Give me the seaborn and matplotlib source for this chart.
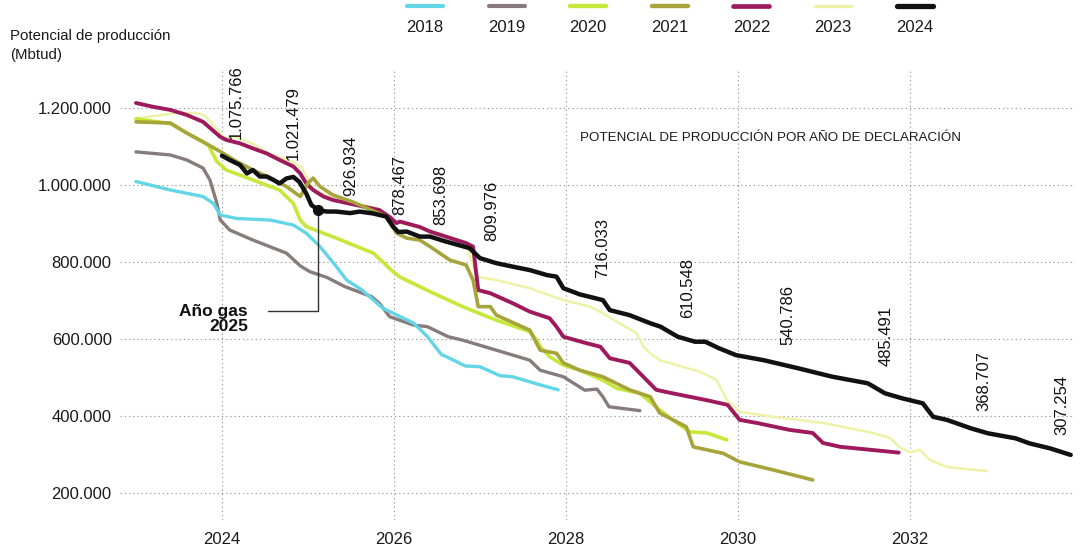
import numpy as np
import pandas as pd
import matplotlib
matplotlib.use("Agg")
import matplotlib.pyplot as plt
import matplotlib.lines as mlines
from matplotlib.ticker import FuncFormatter
import seaborn as sns

# potencial de produccion (miles de Mbtud) por año de declaracion
y2018_x = [2023.00, 2023.40, 2023.78, 2023.90, 2023.98, 2024.17, 2024.56, 2024.83, 2024.98, 2025.14,
           2025.33, 2025.45, 2025.63, 2025.87, 2026.23, 2026.39, 2026.55, 2026.61, 2026.83, 2027.00,
           2027.23, 2027.38, 2027.70, 2027.91]
y2018_v = [1009, 987, 970, 952, 922, 913, 909, 896, 875, 840,
           788, 753, 727, 680, 641, 606, 560, 554, 530, 528,
           505, 502, 481, 468]

y2019_x = [2023.00, 2023.40, 2023.59, 2023.78, 2023.86, 2023.94, 2023.98, 2024.09, 2024.36, 2024.75,
           2024.91, 2025.02, 2025.22, 2025.43, 2025.74, 2025.83, 2025.95, 2026.23, 2026.39, 2026.63,
           2026.80, 2027.19, 2027.58, 2027.70, 2027.97, 2028.22, 2028.36, 2028.43, 2028.50, 2028.86]
y2019_v = [1086, 1078, 1065, 1044, 1013, 953, 909, 883, 857, 823,
           790, 775, 760, 736, 710, 693, 658, 636, 632, 606,
           597, 571, 545, 519, 502, 467, 470, 450, 424, 414]

y2020_x = [2023.00, 2023.40, 2023.84, 2023.94, 2024.05, 2024.36, 2024.67, 2024.83, 2024.91, 2024.98,
           2025.33, 2025.76, 2025.99, 2026.07, 2026.42, 2026.80, 2027.19, 2027.58, 2027.66, 2027.70,
           2027.81, 2027.97, 2028.16, 2028.43, 2028.59, 2028.86, 2029.09, 2029.24, 2029.44, 2029.64,
           2029.87]
y2020_v = [1172, 1159, 1104, 1061, 1039, 1013, 987, 952, 909, 892,
           862, 823, 775, 761, 723, 684, 649, 619, 597, 580,
           554, 532, 519, 493, 472, 459, 416, 390, 359, 356,
           338]

y2021_x = [2023.00, 2023.40, 2023.59, 2023.78, 2023.98, 2024.17, 2024.36, 2024.56, 2024.75, 2024.91,
           2025.00, 2025.06, 2025.14, 2025.29, 2025.52, 2025.91, 2026.03, 2026.15, 2026.30, 2026.42,
           2026.65, 2026.84, 2026.92, 2026.98, 2027.12, 2027.19, 2027.58, 2027.70, 2027.89, 2027.97,
           2028.16, 2028.43, 2028.74, 2028.98, 2029.09, 2029.40, 2029.48, 2029.83, 2030.02, 2030.41,
           2030.87]
y2021_v = [1164, 1161, 1135, 1112, 1087, 1061, 1039, 1018, 996, 970,
           1005, 1018, 996, 974, 956, 918, 875, 862, 857, 840,
           805, 792, 753, 684, 684, 662, 623, 571, 563, 538,
           519, 502, 468, 450, 408, 372, 320, 303, 281, 260,
           234]

y2022_x = [2023.00, 2023.20, 2023.40, 2023.59, 2023.78, 2023.98, 2024.05, 2024.21, 2024.36, 2024.52,
           2024.67, 2024.83, 2024.91, 2024.98, 2025.06, 2025.18, 2025.29, 2025.83, 2025.95, 2026.03,
           2026.07, 2026.30, 2026.42, 2026.84, 2026.92, 2026.98, 2027.12, 2027.38, 2027.58, 2027.81,
           2027.89, 2027.97, 2028.24, 2028.40, 2028.51, 2028.74, 2028.86, 2029.05, 2029.24, 2029.64,
           2029.88, 2030.02, 2030.22, 2030.60, 2030.87, 2030.99, 2031.19, 2031.87]
y2022_v = [1213, 1203, 1195, 1182, 1164, 1125, 1117, 1108, 1095, 1082,
           1065, 1048, 1030, 1004, 987, 970, 961, 935, 917, 901,
           905, 891, 879, 849, 840, 727, 719, 693, 671, 654,
           632, 606, 589, 580, 550, 538, 511, 468, 459, 441,
           429, 390, 382, 364, 356, 330, 320, 305]

y2023_x = [2023.00, 2023.25, 2023.45, 2023.69, 2023.80, 2023.92, 2024.03, 2024.15, 2024.35, 2024.53,
           2024.69, 2024.81, 2024.93, 2025.06, 2025.29, 2025.83, 2026.00, 2026.42, 2026.84, 2026.88,
           2026.96, 2027.19, 2027.58, 2027.97, 2028.28, 2028.43, 2028.59, 2028.82, 2028.90, 2028.98,
           2029.09, 2029.56, 2029.75, 2029.87, 2030.02, 2030.41, 2030.99, 2031.57, 2031.77, 2031.88,
           2032.00, 2032.12, 2032.23, 2032.43, 2032.66, 2032.90]
y2023_v = [1173, 1180, 1187, 1187, 1180, 1151, 1122, 1125, 1108, 1083,
           1070, 1061, 1044, 990, 965, 938, 905, 882, 852, 818,
           762, 753, 732, 701, 684, 667, 645, 616, 580, 563,
           545, 515, 494, 442, 411, 398, 382, 356, 343, 319,
           306, 312, 286, 268, 262, 257]

y2024_x = [2024.00, 2024.09, 2024.21, 2024.29, 2024.36, 2024.44, 2024.52, 2024.60, 2024.67, 2024.75,
           2024.83, 2024.90, 2024.98, 2025.04, 2025.12, 2025.22, 2025.33, 2025.49, 2025.60, 2025.76,
           2025.91, 2025.99, 2026.05, 2026.15, 2026.30, 2026.42, 2026.59, 2026.88, 2027.00, 2027.19,
           2027.38, 2027.58, 2027.78, 2027.89, 2027.97, 2028.16, 2028.43, 2028.51, 2028.74, 2028.98,
           2029.10, 2029.30, 2029.50, 2029.62, 2029.78, 2029.98, 2030.30, 2030.70, 2031.10, 2031.51,
           2031.71, 2031.91, 2032.15, 2032.27, 2032.43, 2032.71, 2032.91, 2033.23, 2033.39, 2033.63,
           2033.87]
y2024_v = [1076, 1065, 1052, 1030, 1039, 1022, 1022, 1013, 1004, 1017,
           1021, 1008, 978, 948, 935, 931, 931, 927, 931, 926,
           918, 892, 878, 879, 866, 866, 854, 836, 810, 797,
           788, 779, 766, 762, 732, 716, 701, 675, 662, 641,
           632, 606, 593, 593, 576, 558, 545, 524, 502, 485,
           459, 446, 433, 398, 390, 368, 355, 342, 329, 316,
           299]

# etiquetas de la serie 2024
label_x = [2024.17, 2024.83, 2025.50, 2026.07, 2026.55, 2027.14, 2028.43, 2029.41, 2030.58, 2031.72, 2032.86, 2033.77]
label_v = [1075766, 1021479, 926934, 878467, 853698, 809976, 716033, 610548, 540786, 485491, 368707, 307254]

gas_year_x = 2025.12
gas_year_v = 935000

series = ["2018", "2019", "2020", "2021", "2022", "2023", "2024"]
xs = [y2018_x, y2019_x, y2020_x, y2021_x, y2022_x, y2023_x, y2024_x]
vs = [y2018_v, y2019_v, y2020_v, y2021_v, y2022_v, y2023_v, y2024_v]

colors = {"2018": "#62d6e6", "2019": "#877b7c", "2020": "#c6e83a", "2021": "#a7a43c",
          "2022": "#9e1a5c", "2023": "#eef2a6", "2024": "#111111"}
widths = {"2018": 2.4, "2019": 2.4, "2020": 2.6, "2021": 2.6, "2022": 2.8, "2023": 1.8, "2024": 3.2}
draw_order = ["2023", "2022", "2019", "2018", "2020", "2021", "2024"]

df = pd.concat([pd.DataFrame({"anio": x, "valor": np.array(v) * 1000, "serie": s})
                for s, x, v in zip(series, xs, vs)], ignore_index=True)

sns.set_theme(style="white")
plt.rcParams["font.family"] = ["Liberation Sans", "DejaVu Sans"]

fig = plt.figure(figsize=(10.83, 5.55), dpi=100)
ax = fig.add_axes([0.1108, 0.0631, 0.8818, 0.8108])

for s in draw_order:
    d = df[df["serie"] == s]
    sns.lineplot(data=d, x="anio", y="valor", color=colors[s], lw=widths[s],
                 estimator=None, sort=False, ax=ax, legend=False)

ax.set_xlim(2022.814, 2033.92)
ax.set_ylim(130000, 1298700)
ax.set_xticks([2024, 2026, 2028, 2030, 2032])
ax.set_yticks([200000, 400000, 600000, 800000, 1000000, 1200000])
ax.yaxis.set_major_formatter(FuncFormatter(lambda v, p: f"{int(v):,}".replace(",", ".")))
ax.xaxis.set_major_formatter(FuncFormatter(lambda v, p: f"{int(v)}"))
ax.tick_params(axis="both", length=0, labelsize=12, colors="#1a1a1a")
ax.tick_params(axis="y", pad=6)
ax.tick_params(axis="x", pad=9)
ax.grid(True, color="#9a9a9a", lw=0.8, linestyle=(0, (1.2, 2.6)))
ax.set_axisbelow(True)
for sp in ax.spines.values():
    sp.set_visible(False)
ax.set_xlabel("")
ax.set_ylabel("")
ax.patch.set_alpha(0)

# valores anuales rotados
for lx, lv in zip(label_x, label_v):
    ax.annotate(f"{lv:,}".replace(",", "."), xy=(lx, lv), xytext=(0, 12), textcoords="offset points",
                rotation=90, ha="center", va="bottom", fontsize=12, color="#111111")

# año gas 2025
ax.plot([gas_year_x], [gas_year_v], marker="o", ms=7, color="#111111", zorder=6)
ax.annotate("Año gas\n2025", xy=(gas_year_x, gas_year_v), xytext=(2024.30, 652000),
            ha="right", va="center", fontsize=12.5, fontweight="bold", color="#111111",
            linespacing=1.0,
            arrowprops=dict(arrowstyle="-", color="#333333", lw=1,
                            connectionstyle="angle,angleA=0,angleB=90,rad=0",
                            relpos=(1, 0.78), shrinkA=12, shrinkB=0))

ax.text(2028.16, 1122000, "POTENCIAL DE PRODUCCIÓN POR AÑO DE DECLARACIÓN",
        ha="left", va="center", fontsize=9.6, color="#1a1a1a")

fig.text(0.009, 0.918, "Potencial de producción\n(Mbtud)", ha="left", va="center",
         fontsize=10.8, color="#1a1a1a", linespacing=1.45)

# leyenda manual
W, H = 1083, 555
for i, s in enumerate(series):
    cx = 425 + i * 81.6
    fig.add_artist(mlines.Line2D([(cx - 18) / W, (cx + 18) / W], [1 - 6 / H, 1 - 6 / H],
                                 color=colors[s], lw=widths[s] + 0.6, transform=fig.transFigure))
    fig.text(cx / W, 1 - 28 / H, s, ha="center", va="center", fontsize=12, color="#1a1a1a")

fig.savefig("out.png", dpi=100, facecolor="white")
